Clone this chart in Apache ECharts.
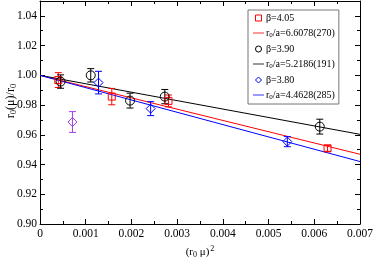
<!DOCTYPE html>
<html><head><meta charset="utf-8">
<script src="https://cdn.jsdelivr.net/npm/echarts@6/dist/echarts.min.js"></script>
<style>html,body{margin:0;padding:0;background:#fff}#c{width:374px;height:258px}</style>
</head><body><div id="c"></div>
<script>
// beta = 4.05
const b405X = [0.00040, 0.00157, 0.00281, 0.00629];
const b405Y = [0.9968, 0.9857, 0.9828, 0.9509];
const b405E = [0.0050, 0.0055, 0.0040, 0.0020];
// beta = 3.90
const b390X = [0.00045, 0.00111, 0.00197, 0.00273, 0.00612];
const b390Y = [0.9958, 1.0000, 0.9830, 0.9857, 0.9655];
const b390E = [0.0045, 0.0045, 0.0050, 0.0048, 0.0050];
// beta = 3.80
const b380X = [0.00128, 0.00242, 0.00541];
const b380Y = [0.9951, 0.9776, 0.9554];
const b380E = [0.0076, 0.0047, 0.0034];
// extra (violet) point
const outX = [0.00071];
const outY = [0.9686];
const outE = [0.0070];
// fit lines
const fitX = [0, 0.007];
const fit405 = [1.0, 0.9469];
const fit390 = [1.0, 0.9603];
const fit380 = [1.0, 0.9420];
// axes
const xMin = 0, xMax = 0.007, xStep = 0.001;
const yMin = 0.90, yMax = 1.05, yStep = 0.02;
const yTitle = '{n|r}{s|0}{n|(μ)/r}{s|0}';
const xTitle = '{n|(r}{s|0}{n| μ)}{p|2}';
// legend labels
const legendNames = ['s405','l405','s390','l390','s380','l380'];
const legendLabels = {
  s405: 'β=4.05', l405: 'r{s|0}/a=6.6078(270)',
  s390: 'β=3.90', l390: 'r{s|0}/a=5.2186(191)',
  s380: 'β=3.80', l380: 'r{s|0}/a=4.4628(285)'
};
const legendIcons = {
  s405: 'path://M0,0H10V10H0Z',
  s390: 'path://M5,0A5,5 0 1,1 5,10A5,5 0 1,1 5,0Z',
  s380: 'path://M5,0L10,5L5,10L0,5Z'
};
const lineIcon = 'path://M0,0M0,2.6H11V3.4H0ZM11,6';
const legendColors = {s405:'#ff0000', l405:'#ff0000', s390:'#000000', l390:'#000000', s380:'#0000ff', l380:'#0000ff'};

const FONT = '"Liberation Serif", "DejaVu Serif", serif';
function zip(xs, ys, es){ return xs.map((x,i)=> es ? [x, ys[i], es[i]] : [x, ys[i]]); }

function errSeries(xs, ys, es, color){
  return {
    type: 'custom', silent: true, z: 3,
    data: zip(xs, ys, es),
    itemStyle: {color: color},
    renderItem: function(params, api){
      const x = api.value(0), y = api.value(1), e = api.value(2);
      const t = api.coord([x, y + e]), b = api.coord([x, y - e]);
      const hw = 3.5;
      const st = {stroke: color, lineWidth: 1};
      return {type: 'group', children: [
        {type:'line', shape:{x1:t[0], y1:t[1], x2:b[0], y2:b[1]}, style: st},
        {type:'line', shape:{x1:t[0]-hw, y1:t[1], x2:t[0]+hw, y2:t[1]}, style: st},
        {type:'line', shape:{x1:b[0]-hw, y1:b[1], x2:b[0]+hw, y2:b[1]}, style: st}
      ]};
    }
  };
}
function scat(name, xs, ys, sym, size, color){
  return {
    name: name, type: 'scatter', symbol: sym, symbolSize: size, z: 4, symbolKeepAspect: true,
    data: zip(xs, ys),
    itemStyle: {color: 'rgba(0,0,0,0)', borderColor: color, borderWidth: 1, opacity: 1}
  };
}
function fitLine(name, ys, color){
  return {
    name: name, type: 'line', symbol: 'none', z: 2,
    data: zip(fitX, ys),
    lineStyle: {color: color, width: 1},
    itemStyle: {color: color}
  };
}

const axisCommon = {
  axisLine: {show: true, onZero: false, lineStyle: {color: '#000', width: 1}},
  axisTick: {show: true, inside: true, length: 5, lineStyle: {color: '#000'}},
  minorTick: {show: true, splitNumber: 2, length: 3, lineStyle: {color: '#000'}},
  splitLine: {show: false}
};

const chart = echarts.init(document.getElementById('c'), null, {renderer: 'canvas'});
chart.setOption({
  animation: false,
  backgroundColor: '#fff',
  grid: {left: 40, right: 14, top: 1, bottom: 34, containLabel: false, outerBoundsMode: 'none'},
  graphic: [{
    type: 'text', x: 11, y: 101, rotation: Math.PI / 2, z: 10,
    style: {text: yTitle, align: 'center', verticalAlign: 'middle', fontFamily: FONT, fill: '#000',
      rich: {
        n: {fontSize: 12, fontFamily: FONT, fill: '#000', color: '#000'},
        s: {fontSize: 8.5, fontFamily: FONT, fill: '#000', color: '#000', padding: [6,0,0,0]}
      }}
  }],
  xAxis: [
    Object.assign({
      type: 'value', min: xMin, max: xMax, interval: xStep, position: 'bottom',
      name: xTitle, nameLocation: 'middle', nameGap: 17,
      nameTextStyle: {fontFamily: FONT, color: '#000', rich: {
        n: {fontSize: 11, fontFamily: FONT, color: '#000'},
        s: {fontSize: 8, fontFamily: FONT, color: '#000', padding: [6,0,0,0]},
        p: {fontSize: 8, fontFamily: FONT, color: '#000', padding: [0,0,7,1]}
      }},
      axisLabel: {fontFamily: FONT, fontSize: 11.5, color: '#000', margin: 4,
        formatter: v => v === 0 ? '0' : v.toFixed(3)}
    }, axisCommon),
    Object.assign({
      type: 'value', min: xMin, max: xMax, interval: xStep, position: 'top',
      axisLabel: {show: false}
    }, axisCommon)
  ],
  yAxis: [
    Object.assign({
      type: 'value', min: yMin, max: yMax, interval: yStep, position: 'left',
      axisLabel: {fontFamily: FONT, fontSize: 11.5, color: '#000', margin: 3, showMaxLabel: false,
        formatter: v => v.toFixed(2)}
    }, axisCommon),
    Object.assign({
      type: 'value', min: yMin, max: yMax, interval: yStep, position: 'right',
      axisLabel: {show: false}
    }, axisCommon)
  ],
  legend: {
    orient: 'vertical', left: 248, top: 10,
    data: legendNames.map(n => legendIcons[n]
      ? {name: n, icon: legendIcons[n], itemStyle: {color: 'rgba(0,0,0,0)', borderColor: legendColors[n], borderWidth: 1}}
      : {name: n, icon: lineIcon, itemStyle: {color: legendColors[n], borderWidth: 0}}),
    itemWidth: 11, itemHeight: 6, itemGap: 5,
    padding: [3, 4, 3, 5],
    borderColor: '#777', borderWidth: 1, backgroundColor: '#fff',
    selectedMode: false,
    textStyle: {fontFamily: FONT, fontSize: 10, color: '#000', padding: [0,0,0,-3], lineHeight: 9,
      rich: {s: {fontSize: 7, fontFamily: FONT, color: '#000', padding: [5,0,0,0]}}},
    formatter: name => legendLabels[name]
  },
  series: [
    fitLine('l405', fit405, '#ff0000'),
    fitLine('l390', fit390, '#000000'),
    fitLine('l380', fit380, '#0000ff'),
    errSeries(b405X, b405Y, b405E, '#ff0000'),
    errSeries(b390X, b390Y, b390E, '#000000'),
    errSeries(b380X, b380Y, b380E, '#0000ff'),
    errSeries(outX, outY, outE, '#a040e0'),
    scat('s405', b405X, b405Y, 'rect', 7, '#ff0000'),
    scat('s390', b390X, b390Y, 'circle', 9, '#000000'),
    scat('s380', b380X, b380Y, 'diamond', 9, '#0000ff'),
    scat('sout', outX, outY, 'diamond', 9, '#a040e0')
  ]
});
</script></body></html>
